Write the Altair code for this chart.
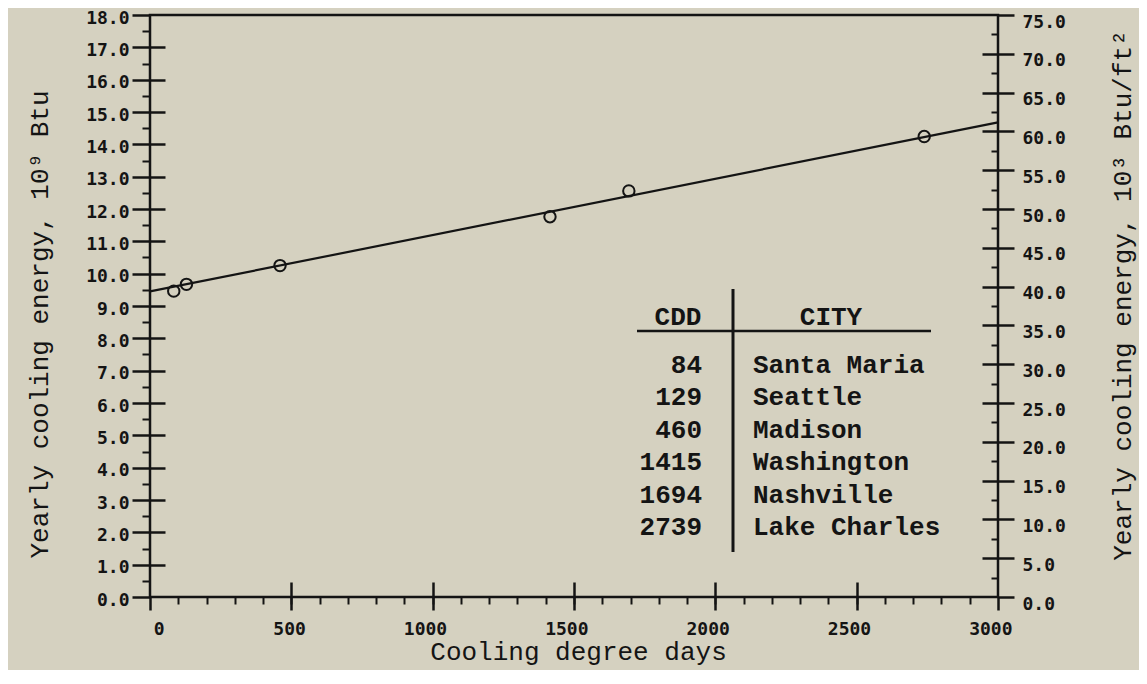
import altair as alt
import pandas as pd

# ---------------- data ----------------
cdd = [84, 129, 460, 1415, 1694, 2739]
energy = [9.46, 9.67, 10.25, 11.76, 12.56, 14.24]          # 10^9 Btu
city = ["Santa Maria", "Seattle", "Madison", "Washington", "Nashville", "Lake Charles"]
fit_cdd = [0, 3000]
fit_energy = [9.45, 14.68]
table_headers = ["CDD", "CITY"]

x_ticks = [0, 500, 1000, 1500, 2000, 2500, 3000]
yl_ticks = list(range(0, 19))
yr_ticks = list(range(0, 76, 5))

# ---------------- layout / style ----------------
W, H = 848, 582
INK = "#141414"
BG = "#d5d1c0"
LABEL_FONT = "DejaVu Sans Mono"
TITLE_FONT = "Liberation Mono"
AREA_KFT2 = 240.0   # 18e9 Btu  <->  75e3 Btu/ft2

pts = pd.DataFrame({"cdd": cdd, "energy": energy, "city": city,
                    "row": list(range(len(cdd)))})
fit = pd.DataFrame({"cdd": fit_cdd, "energy": fit_energy})

xs = alt.Scale(domain=[0, 3000], nice=False, zero=False)
yl = alt.Scale(domain=[0, 18], nice=False, zero=False)
yr = alt.Scale(domain=[0, 75], nice=False, zero=False)


def tick_axis(orient, values, size, width=2.5, offset=None):
    kw = dict(orient=orient, values=values, tickSize=size, tickWidth=width,
              tickColor=INK, labels=False, domain=False, grid=False, title=None)
    if offset is not None:
        kw["offset"] = offset
    return alt.Axis(**kw)


label_style = dict(labelFont=LABEL_FONT, labelFontWeight="bold", labelFontSize=18,
                   labelColor=INK, labelOverlap=False, labelFlush=False, labelBound=False)
title_style = dict(titleFont=TITLE_FONT, titleFontSize=26, titleFontWeight="normal",
                   titleColor=INK, titleAlign="center", titleBaseline="alphabetic")

x_main = alt.Axis(orient="bottom", values=x_ticks, format="d", tickSize=13, tickWidth=2.5,
                  tickColor=INK, domain=False, grid=False, labelAlign="right",
                  labelOffset=14, labelPadding=10, **label_style,
                  title="Cooling degree days", titleX=428, titleY=62, **title_style)
yl_main = alt.Axis(orient="left", values=yl_ticks, format=".1f", tickSize=18, tickWidth=2.5,
                   tickColor=INK, domain=False, grid=False, labelPadding=3, labelOffset=3,
                   **label_style,
                   title="Yearly cooling energy, 10⁹ Btu", titleAngle=270,
                   titleX=-103, titleY=309, **title_style)
yr_main = alt.Axis(orient="right", values=yr_ticks, format=".1f", tickSize=16, tickWidth=2.5,
                   tickColor=INK, domain=False, grid=False, labelPadding=8, labelOffset=7,
                   **label_style,
                   title="Yearly cooling energy, 10³ Btu/ft²", titleAngle=270,
                   titleX=132, titleY=280, **title_style)

x_minor = tick_axis("bottom", list(range(100, 3000, 100)), 7, 2)
x_inner = tick_axis("top", x_ticks[1:-1], 15, 2.5, offset=-H)
yl_minor = tick_axis("left", [i * 0.5 for i in range(1, 36, 2)], 8, 2)
yl_inner = tick_axis("right", yl_ticks[1:-1], 15, 2.5, offset=-W)
yr_minor = tick_axis("left", [i * 2.5 for i in range(1, 30, 2)], 7, 2, offset=-W)
yr_inner = tick_axis("left", yr_ticks[1:-1], 16, 2.5, offset=-W)

# ---------------- layers ----------------
line = alt.Chart(fit).mark_line(color=INK, strokeWidth=2.2).encode(
    x=alt.X("cdd:Q", scale=xs, axis=x_main),
    y=alt.Y("energy:Q", scale=yl, axis=yl_main),
)
points = alt.Chart(pts).mark_point(shape="circle", filled=False, size=130,
                                   strokeWidth=2, color=INK, opacity=1).encode(
    x=alt.X("cdd:Q", scale=xs, axis=x_minor),
    y=alt.Y("energy:Q", scale=yl, axis=yl_minor),
)
inner_l = alt.Chart(pts).mark_point(opacity=0).encode(
    x=alt.X("cdd:Q", scale=xs, axis=x_inner),
    y=alt.Y("energy:Q", scale=yl, axis=yl_inner),
)
right_base = alt.Chart(pts).transform_calculate(
    kbtu="datum.energy * 1000 / %f" % AREA_KFT2
).mark_point(opacity=0)
right_main = right_base.encode(
    x=alt.X("cdd:Q", scale=xs, axis=None),
    y=alt.Y("kbtu:Q", scale=yr, axis=yr_main),
)
right_minor = right_base.encode(
    x=alt.X("cdd:Q", scale=xs, axis=None),
    y=alt.Y("kbtu:Q", scale=yr, axis=yr_minor),
)
right_inner = right_base.encode(
    x=alt.X("cdd:Q", scale=xs, axis=None),
    y=alt.Y("kbtu:Q", scale=yr, axis=yr_inner),
)

# ---------------- inset table ----------------
TFONT = dict(font=TITLE_FONT, fontWeight="bold", fontSize=26, color=INK,
             baseline="alphabetic")
row_y = alt.Y("row:Q", scale=alt.Scale(domain=[0, 5], range=[358, 520]), axis=None)

cdd_col = alt.Chart(pts).mark_text(align="right", **TFONT).encode(
    x=alt.value(552), y=row_y, text=alt.Text("cdd:Q", format="d"))
city_col = alt.Chart(pts).mark_text(align="left", **TFONT).encode(
    x=alt.value(603), y=row_y, text="city:N")
hdr_cdd = alt.Chart(alt.Data(values=[{"h": table_headers[0]}])).mark_text(
    align="center", **TFONT).encode(x=alt.value(528), y=alt.value(310), text="h:N")
hdr_city = alt.Chart(alt.Data(values=[{"h": table_headers[1]}])).mark_text(
    align="center", **TFONT).encode(x=alt.value(681), y=alt.value(310), text="h:N")
vrule = alt.Chart(alt.Data(values=[{"k": 0}])).mark_rule(color=INK, strokeWidth=3).encode(
    x=alt.value(583), y=alt.value(274), y2=alt.value(537))
hrule = alt.Chart(alt.Data(values=[{"k": 0}])).mark_rule(color=INK, strokeWidth=2.5).encode(
    x=alt.value(487), x2=alt.value(781), y=alt.value(316))

chart = alt.layer(
    line, points, inner_l, right_main, right_minor, right_inner,
    cdd_col, city_col, hdr_cdd, hdr_city, vrule, hrule,
).resolve_scale(x="shared", y="independent").resolve_axis(
    x="independent", y="independent"
).properties(
    width=W, height=H,
    padding={"left": 142, "top": 7, "right": 141, "bottom": 73},
    autosize=alt.AutoSizeParams(type="none"),
    background=BG,
).configure_view(stroke=INK, strokeWidth=2.5)

chart.save("out.html", embed_options={"renderer": "svg", "actions": False})
